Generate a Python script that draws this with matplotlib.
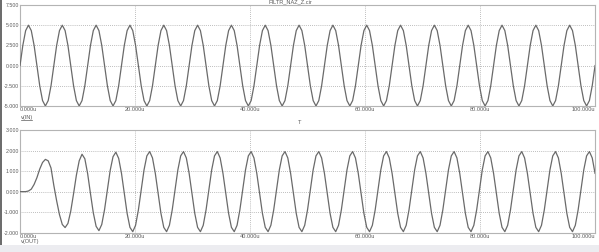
import numpy as np
import matplotlib
matplotlib.use("Agg")
import matplotlib.pyplot as plt
from matplotlib.lines import Line2D
from matplotlib.patches import Rectangle

# simulation time in microseconds (uniform print step, 12 points per input cycle)
t_start = 0.0
t_stop = 100.0
n_points = 205

# v(IN), 17 cycles of the 5 V source
vin = [
    0.0, 2.5, 4.33, 5.0, 4.33, 2.5, 0.0, -2.5, -4.33, -5.0, -4.33, -2.5,
    0.0, 2.5, 4.33, 5.0, 4.33, 2.5, 0.0, -2.5, -4.33, -5.0, -4.33, -2.5,
    0.0, 2.5, 4.33, 5.0, 4.33, 2.5, 0.0, -2.5, -4.33, -5.0, -4.33, -2.5,
    0.0, 2.5, 4.33, 5.0, 4.33, 2.5, 0.0, -2.5, -4.33, -5.0, -4.33, -2.5,
    0.0, 2.5, 4.33, 5.0, 4.33, 2.5, 0.0, -2.5, -4.33, -5.0, -4.33, -2.5,
    0.0, 2.5, 4.33, 5.0, 4.33, 2.5, 0.0, -2.5, -4.33, -5.0, -4.33, -2.5,
    0.0, 2.5, 4.33, 5.0, 4.33, 2.5, 0.0, -2.5, -4.33, -5.0, -4.33, -2.5,
    0.0, 2.5, 4.33, 5.0, 4.33, 2.5, 0.0, -2.5, -4.33, -5.0, -4.33, -2.5,
    0.0, 2.5, 4.33, 5.0, 4.33, 2.5, 0.0, -2.5, -4.33, -5.0, -4.33, -2.5,
    0.0, 2.5, 4.33, 5.0, 4.33, 2.5, 0.0, -2.5, -4.33, -5.0, -4.33, -2.5,
    0.0, 2.5, 4.33, 5.0, 4.33, 2.5, 0.0, -2.5, -4.33, -5.0, -4.33, -2.5,
    0.0, 2.5, 4.33, 5.0, 4.33, 2.5, 0.0, -2.5, -4.33, -5.0, -4.33, -2.5,
    0.0, 2.5, 4.33, 5.0, 4.33, 2.5, 0.0, -2.5, -4.33, -5.0, -4.33, -2.5,
    0.0, 2.5, 4.33, 5.0, 4.33, 2.5, 0.0, -2.5, -4.33, -5.0, -4.33, -2.5,
    0.0, 2.5, 4.33, 5.0, 4.33, 2.5, 0.0, -2.5, -4.33, -5.0, -4.33, -2.5,
    0.0, 2.5, 4.33, 5.0, 4.33, 2.5, 0.0, -2.5, -4.33, -5.0, -4.33, -2.5,
    0.0, 2.5, 4.33, 5.0, 4.33, 2.5, 0.0, -2.5, -4.33, -5.0, -4.33, -2.5,
    0.0,
]

# v(OUT), filter output with start-up transient
vout = [
    0.0, 0.0, 0.0, 0.03, 0.12, 0.35, 0.68, 1.1, 1.42, 1.57, 1.5, 1.15,
    0.3, -0.45, -1.12, -1.6, -1.75, -1.55, -0.95, -0.1, 0.8, 1.5, 1.82, 1.6,
    0.87, -0.1, -1.03, -1.69, -1.9, -1.6, -0.87, 0.1, 1.04, 1.7, 1.92, 1.62,
    0.89, -0.1, -1.06, -1.74, -1.95, -1.64, -0.89, 0.1, 1.06, 1.74, 1.95, 1.64,
    0.89, -0.1, -1.06, -1.74, -1.95, -1.64, -0.89, 0.1, 1.06, 1.74, 1.95, 1.64,
    0.89, -0.1, -1.06, -1.74, -1.95, -1.64, -0.89, 0.1, 1.06, 1.74, 1.95, 1.64,
    0.89, -0.1, -1.06, -1.74, -1.95, -1.64, -0.89, 0.1, 1.06, 1.74, 1.95, 1.64,
    0.89, -0.1, -1.06, -1.74, -1.95, -1.64, -0.89, 0.1, 1.06, 1.74, 1.95, 1.64,
    0.89, -0.1, -1.06, -1.74, -1.95, -1.64, -0.89, 0.1, 1.06, 1.74, 1.95, 1.64,
    0.89, -0.1, -1.06, -1.74, -1.95, -1.64, -0.89, 0.1, 1.06, 1.74, 1.95, 1.64,
    0.89, -0.1, -1.06, -1.74, -1.95, -1.64, -0.89, 0.1, 1.06, 1.74, 1.95, 1.64,
    0.89, -0.1, -1.06, -1.74, -1.95, -1.64, -0.89, 0.1, 1.06, 1.74, 1.95, 1.64,
    0.89, -0.1, -1.06, -1.74, -1.95, -1.64, -0.89, 0.1, 1.06, 1.74, 1.95, 1.64,
    0.89, -0.1, -1.06, -1.74, -1.95, -1.64, -0.89, 0.1, 1.06, 1.74, 1.95, 1.64,
    0.89, -0.1, -1.06, -1.74, -1.95, -1.64, -0.89, 0.1, 1.06, 1.74, 1.95, 1.64,
    0.89, -0.1, -1.06, -1.74, -1.95, -1.64, -0.89, 0.1, 1.06, 1.74, 1.95, 1.64,
    0.89, -0.1, -1.06, -1.74, -1.95, -1.64, -0.89, 0.1, 1.06, 1.74, 1.95, 1.64,
    0.89,
]

x_ticks = [0, 20, 40, 60, 80, 100]
x_ticklabels = ["0.000u", "20.000u", "40.000u", "60.000u", "80.000u", "100.000u"]
top_yticks = [-5.0, -2.5, 0.0, 2.5, 5.0, 7.5]
bot_yticks = [-2.0, -1.0, 0.0, 1.0, 2.0, 3.0]

title = "FILTR_NAZ_Z.cir"

trace_col = "#6a6a6a"
frame_col = "#b4b4b4"
grid_col = "#a8a8a8"
text_col = "#5a5a5a"
fs = 4.1

plt.rcParams["font.family"] = ["Liberation Sans", "DejaVu Sans"]

t = np.linspace(t_start, t_stop, n_points)

fig = plt.figure(figsize=(5.99, 2.52), dpi=100)
fig.patch.set_facecolor("white")


def setup(ax, yticks, ylim):
    ax.set_xlim(0, 100)
    ax.set_ylim(*ylim)
    ax.set_xticks(x_ticks)
    ax.set_yticks(yticks)
    ax.set_yticklabels([f"{v:.3f}" for v in yticks])
    ax.set_xticklabels(x_ticklabels)
    ax.tick_params(length=0, labelsize=fs, colors=text_col)
    ax.tick_params(axis="y", pad=0.6, labelsize=3.8)
    ax.tick_params(axis="x", pad=1)
    ax.get_xticklabels()[0].set_horizontalalignment("left")
    ax.get_xticklabels()[-1].set_horizontalalignment("right")
    for s in ax.spines.values():
        s.set_color(frame_col)
        s.set_linewidth(0.8)
    # dotted grid, inner lines only
    for yv in yticks[1:-1]:
        ax.axhline(yv, color=grid_col, lw=0.6, ls=(0, (1, 1.5)), zorder=1)
    for xv in x_ticks[1:-1]:
        ax.axvline(xv, color=grid_col, lw=0.6, ls=(0, (1, 1.5)), zorder=1)


ax1 = fig.add_axes([0.0334, 0.5794, 0.960, 0.4008])
setup(ax1, top_yticks, (-5.0, 7.5))
ax1.plot(t, vin, color=trace_col, lw=0.9, zorder=3)

ax2 = fig.add_axes([0.0334, 0.0766, 0.960, 0.4075])
setup(ax2, bot_yticks, (-2.0, 3.0))
ax2.plot(t, vout, color=trace_col, lw=0.9, zorder=3)

# trace names and axis titles
fig.text(21 / 599, 1 - 117 / 252, "v(IN)", fontsize=fs, color=text_col,
         ha="left", va="center")
fig.add_artist(Line2D([21 / 599, 32 / 599], [1 - 120 / 252, 1 - 120 / 252],
                      color=text_col, lw=0.5))
fig.text(21 / 599, 1 - 242 / 252, "v(OUT)", fontsize=fs, color=text_col,
         ha="left", va="center")
fig.text(300 / 599, 1 - 123 / 252, "T", fontsize=fs, color=text_col,
         ha="center", va="center")
fig.text(290 / 599, 1 - 1.5 / 252, title, fontsize=fs, color=text_col,
         ha="center", va="center")

# window chrome: bottom status strip and left border
fig.add_artist(Rectangle((0, 0), 1, 7 / 252, transform=fig.transFigure,
                         facecolor="#ececf0", edgecolor="none", zorder=5))
fig.add_artist(Line2D([0.5 / 599, 0.5 / 599], [0, 1], color="#505050", lw=1.2))

fig.savefig("out.png", dpi=100)
